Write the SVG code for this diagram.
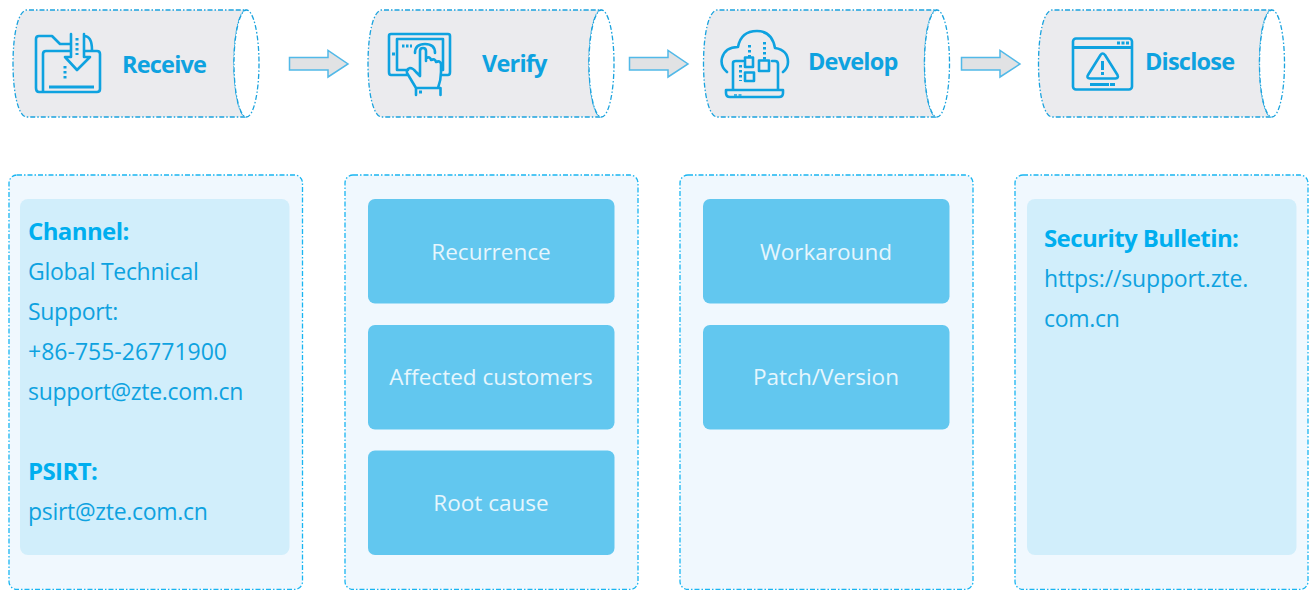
<svg xmlns="http://www.w3.org/2000/svg" width="1309" height="590" viewBox="0 0 1309 590">
<style>
text{font-family:"Open Sans","Noto Sans","Liberation Sans",sans-serif}
.cyl{fill:#ebebee;stroke:#1ba3de;stroke-width:1.300;stroke-dasharray:5 2 1.500 2}
.end{fill:#fff;stroke:#1ba3de;stroke-width:1.300;stroke-dasharray:5 2 1.500 2}
.ttl{font-size:23.500px;font-weight:700;fill:#0ea2e0;letter-spacing:-.8px}
.arr{fill:#e1e2e4;stroke:#52b9e8;stroke-width:1.500}
.pan{fill:#f0f8fe;stroke:#19b5f1;stroke-width:1.300;stroke-dasharray:5 2 1.500 2}
.inn{fill:#d1eefb}
.box{fill:#62c7ef}
.bt{font-size:22.500px;fill:#e6f6fd;text-anchor:middle}
.b{font-size:24px;font-weight:700;fill:#00aeef;letter-spacing:-.6px}
.t{font-size:23px;fill:#0ea2e0;letter-spacing:-.3px}
.ic{fill:none;stroke:#0ea2e0;stroke-width:2.600;stroke-linejoin:round;stroke-linecap:round}
.ds{fill:none;stroke:#0ea2e0;stroke-width:3;stroke-dasharray:2.600 2.400}
.th{fill:none;stroke:#0ea2e0;stroke-width:3}
</style>
<defs>
<g id="cylinder">
<path class="cyl" d="M233.500 10H27C18 10 13 35 13 63.500S18 117 27 117H246.500C239 117 234 92 234 63.500S239 10 246.500 10Z"/>
<ellipse class="end" cx="246.500" cy="63.500" rx="12.500" ry="53.500"/>
</g>
<path id="arrow" class="arr" d="M289.500 57.500H328V50.500L348 64 328 77V70H289.500Z"/>
</defs>
<g id="connectors">
<use href="#arrow"/>
<use href="#arrow" x="340"/>
<use href="#arrow" x="672"/>
</g>
<g id="node-receive">
<use href="#cylinder"/>
<path class="ic" d="M42 92H39Q36 92 36 88V39Q36 36 39 36H52L60 44H70M43 92V54Q43 51 46 51H70M84 51H97Q100 51 100 54V89Q100 92 97 92H42M84 36Q92 36 92 50M71 34V57H65L77 70 90 57H84V34"/>
<path class="ds" d="M77 38V55M65 66V79"/>
<path class="th" d="M49 87H94"/>
<text class="ttl" x="122" y="73">Receive</text>
</g>
<g id="node-verify">
<use href="#cylinder" x="355"/>
<path class="ic" d="M407 75H391Q389 75 389 72V36Q389 34 391 34H448Q450 34 450 36V72Q450 75 448 75H441M408 70H397V39H443V70H441M415 53Q415 44 425 44Q435 44 435 53M420 60V51Q420 48 423 48Q426 48 426 51V61M426 58Q430 56 431 60M431 60Q435 58 436 62M436 62Q440 60 441 64V72Q441 80 438 88M416 88L407 73Q406 69 410 68Q413 68 416 72L420 76V60M416 95V88H440.500V95"/>
<path class="ds" d="M402 46H412" style="stroke-dasharray:2.500 1.500"/>
<path class="ds" d="M392 54H395M419 92H422" style="stroke-dasharray:none"/>
<text class="ttl" x="482" y="72">Verify</text>
</g>
<g id="node-develop">
<use href="#cylinder" x="690.500"/>
<path class="ic" d="M727 72Q720 66 722 58Q725 47 738 47Q741 31 757 31Q772 31 775 48Q788 50 788 62Q788 68 783 72M733 89V63Q733 61 736 61H743M772 61H775Q778 61 778 64V89M726 90H783V93Q783 97 779 97H730Q726 97 726 93Z"/>
<path class="ic" d="M745 57.500H753V67H745ZM759 60.500H769V71H759ZM745 72.500H754V81H745Z"/>
<path class="ds" d="M749.500 45V57M764.500 42V60M740.500 65V81"/>
<path class="ds" d="M734 95H742" style="stroke-dasharray:3 1.500;stroke-width:1.500"/>
<text class="ttl" x="808" y="70">Develop</text>
</g>
<g id="node-disclose">
<use href="#cylinder" x="1025.500"/>
<rect class="ic" x="1073" y="38.500" width="59" height="51" rx="3"/>
<path class="th" d="M1073 47.500H1132M1090 84.500H1109M1110 84.500H1115"/>
<path class="ds" d="M1117 43H1129" style="stroke-dasharray:3 1.500"/>
<path class="ic" d="M1100.500 55Q1102.500 52 1105 55L1117.500 75Q1119 78 1115.500 78.500H1090Q1086 78 1088 75Z"/>
<path class="th" d="M1102.500 61V70M1102.500 72V75"/>
<text class="ttl" x="1145" y="70">Disclose</text>
</g>
<g id="node-receive-panel">
<rect class="pan" x="9" y="175" width="293.500" height="414.500" rx="8"/>
<rect class="inn" x="20" y="199" width="269.500" height="356" rx="8"/>
<text class="b" x="28" y="240">Channel:</text>
<text class="t" x="28" y="280">Global Technical</text>
<text class="t" x="28" y="320">Support:</text>
<text class="t" x="28" y="360" style="letter-spacing:0" textLength="199">+86-755-26771900</text>
<text class="t" x="28" y="400">support@zte.com.cn</text>
<text class="b" x="28" y="480">PSIRT:</text>
<text class="t" x="28" y="520">psirt@zte.com.cn</text>
</g>
<g id="node-verify-panel">
<rect class="pan" x="345" y="175" width="293" height="414.500" rx="8"/>
<rect class="box" x="368" y="199" width="246.500" height="104.500" rx="7"/>
<rect class="box" x="368" y="325" width="246.500" height="104.500" rx="7"/>
<rect class="box" x="368" y="450.500" width="246.500" height="104.500" rx="7"/>
<text class="bt" x="491" y="260">Recurrence</text>
<text class="bt" x="491" y="385">Affected customers</text>
<text class="bt" x="491" y="511">Root cause</text>
</g>
<g id="node-develop-panel">
<rect class="pan" x="680" y="175" width="293" height="414.500" rx="8"/>
<rect class="box" x="703" y="199" width="246.500" height="104.500" rx="7"/>
<rect class="box" x="703" y="325" width="246.500" height="104.500" rx="7"/>
<text class="bt" x="826" y="260">Workaround</text>
<text class="bt" x="826" y="385">Patch/Version</text>
</g>
<g id="node-disclose-panel">
<rect class="pan" x="1015" y="175" width="293" height="414.500" rx="8"/>
<rect class="inn" x="1027" y="199" width="269.500" height="356" rx="8"/>
<text class="b" x="1044" y="247">Security Bulletin:</text>
<text class="t" x="1044" y="287" style="letter-spacing:-.15px">https://support.zte.</text>
<text class="t" x="1044" y="327">com.cn</text>
</g>
</svg>
